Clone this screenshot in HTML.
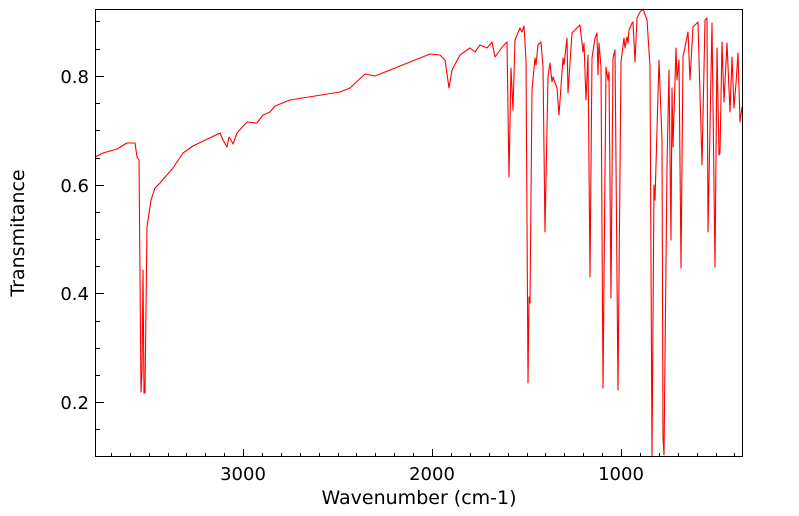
<!DOCTYPE html>
<html><head><meta charset="utf-8"><style>
body{margin:0;background:#fff;}
svg{display:block;font-family:"DejaVu Sans","Liberation Sans",sans-serif;}
</style></head><body>
<svg width="799" height="516" viewBox="0 0 799 516" xmlns="http://www.w3.org/2000/svg">
<rect width="799" height="516" fill="#fff"/>
<polyline fill="none" stroke="#ff0000" stroke-width="1.1" stroke-linejoin="round" points="
95,157 103,153 117,149 127,143 135,143 137,157 139,160 141,392 142,372 143,270 144,393 145,393 147,227 151,200 155,188 160,183 173,168 183,153 193,146 220,133 223,140 227,147 229,137 231,140 233,144 237,133 247,122 257,123 263,115 270,112 275,106 290,100 340,92 350,88 365,74 375,76 400,66 410,62 430,54 440,55 445,60 449,88 452,70 460,55 470,48 475,52 480,45
487,48 492,42 495,57 498,53 502,47 507,42 509,177 511,68 513,110 515,40 520,28 522,32 524,26 526,60 528,383 529,297 530,303 532,90 535,58 536,65 538,45 541,42 543,67 545,232 548,77 550,63 552,82 553,77 557,88 559,115 563,58 564,65 567,38 568,93 572,33 580,25 583,52 584,43 586,100 588,55 590,277 592,58 595,38 597,33 598,75 599,43 601,67 603,388 606,67 608,80 609,72 611,298 613,58 615,50 618,390 621,62 624,38 625,48 627,37 628,43 629,30 632,23 633,22 635,62 637,18 640,12 643,9 647,20 650,67 652,457 654,185 655,200 659,60 662,140 663,437 664,455 667,167 669,70 671,240 672,88 673,147 676,48 677,80 679,60 681,268 683,57 688,32 690,80 693,27 698,22 702,165 705,20 707,18 708,232 712,23 715,267 717,48 719,155 720,153 722,42 724,102 727,43 730,112 732,57 734,108 736,83 738,53 740,122 742,107"/>
<rect x="95.5" y="9.5" width="647" height="447" fill="none" stroke="#000" stroke-width="1"/>
<g stroke="#000" stroke-width="1">
<path d="M111.5,457v-4M130.5,457v-4M149.5,457v-4M168.5,457v-4M186.5,457v-4M205.5,457v-4M224.5,457v-4M262.5,457v-4M281.5,457v-4M300.5,457v-4M319.5,457v-4M338.5,457v-4M356.5,457v-4M375.5,457v-4M394.5,457v-4M413.5,457v-4M451.5,457v-4M470.5,457v-4M489.5,457v-4M508.5,457v-4M527.5,457v-4M545.5,457v-4M564.5,457v-4M583.5,457v-4M602.5,457v-4M640.5,457v-4M659.5,457v-4M678.5,457v-4M697.5,457v-4M716.5,457v-4M734.5,457v-4"/>
<path d="M243.5,457v-8M432.5,457v-8M621.5,457v-8"/>
<path d="M96,76.5h8M96,185.5h8M96,293.5h8M96,402.5h8"/>
<path d="M96,21.5h4M96,49.5h4M96,103.5h4M96,130.5h4M96,158.5h4M96,212.5h4M96,239.5h4M96,266.5h4M96,321.5h4M96,348.5h4M96,375.5h4M96,429.5h4"/>
</g>
<g font-size="18" fill="#000">
<text x="89" y="83" text-anchor="end">0.8</text>
<text x="89" y="192" text-anchor="end">0.6</text>
<text x="89" y="300" text-anchor="end">0.4</text>
<text x="89" y="409" text-anchor="end">0.2</text>
<text x="243" y="480" text-anchor="middle">3000</text>
<text x="432" y="480" text-anchor="middle">2000</text>
<text x="621" y="480" text-anchor="middle">1000</text>
<text x="419" y="504" text-anchor="middle" font-size="19">Wavenumber (cm-1)</text>
<text transform="translate(24,233) rotate(-90)" text-anchor="middle" font-size="19">Transmitance</text>
</g>
</svg>
</body></html>
